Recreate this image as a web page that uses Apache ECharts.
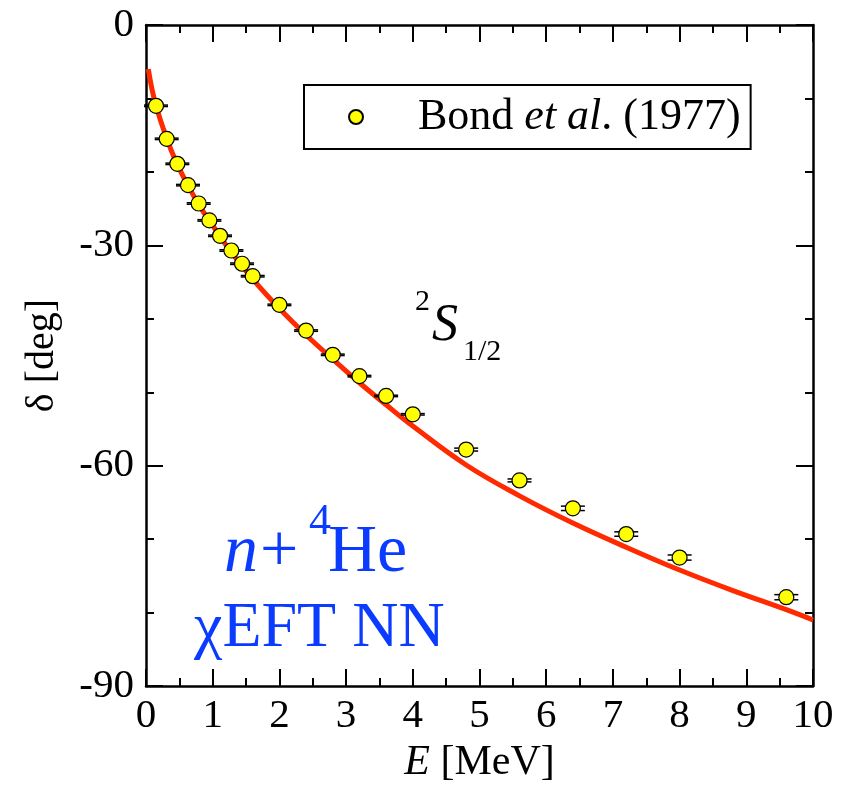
<!DOCTYPE html>
<html>
<head>
<meta charset="utf-8">
<script src="https://cdn.jsdelivr.net/npm/echarts@6/dist/echarts.min.js"></script>
<style>
  html, body { margin: 0; padding: 0; background: #fff; }
  #chart { width: 849px; height: 789px; }
</style>
</head>
<body>
<div id="chart"></div>
<script>
// n-4He 2S1/2 phase shift: Bond et al. (1977) data and chiral EFT NN calculation
const energy   = [0.15, 0.31, 0.47, 0.63, 0.79, 0.95, 1.11, 1.28, 1.44, 1.6, 2.0, 2.4, 2.8, 3.2, 3.6, 4.0, 4.8, 5.6, 6.4, 7.2, 8.0, 9.6];
const phase    = [-11.0, -15.5, -18.9, -21.8, -24.3, -26.6, -28.7, -30.7, -32.5, -34.2, -38.1, -41.6, -44.9, -47.8, -50.5, -53.0, -57.8, -62.0, -65.8, -69.3, -72.5, -77.9];
const phaseErr = [0.1, 0.1, 0.1, 0.1, 0.1, 0.1, 0.1, 0.1, 0.1, 0.1, 0.1, 0.1, 0.1, 0.1, 0.1, 0.1, 0.2, 0.2, 0.3, 0.3, 0.35, 0.35];

// theory curve
const curveE     = [0.035, 0.08, 0.15, 0.3, 0.45, 0.65, 0.85, 1.0, 1.25, 1.6, 2.0, 2.4, 2.8, 3.2, 3.6, 4.0, 4.8, 5.6, 6.4, 7.2, 8.0, 8.8, 9.6, 10.0];
const curveDelta = [-6.0, -8.3, -11.0, -15.2, -18.6, -22.2, -25.3, -27.3, -30.6, -34.6, -38.6, -42.2, -45.5, -48.7, -51.7, -54.6, -59.9, -64.1, -67.8, -71.1, -74.2, -77.0, -79.6, -81.0];

const xTicks = { min: 0, max: 10, interval: 1 };
const yTicks = { min: -90, max: 0, interval: 30 };
const legendName = 'Bond et al. (1977)';

const SERIF = 'Liberation Serif';
const BLUE = '#0b3bff';
const TICK_FONT = 41;

const chart = echarts.init(document.getElementById('chart'));

function frameAxis(extra) {
  return Object.assign({
    axisLine: { show: true, onZero: false, lineStyle: { color: '#000', width: 2.5 } },
    axisTick: { show: true, inside: true, length: 17, lineStyle: { color: '#000', width: 2 } },
    splitLine: { show: false },
    minorSplitLine: { show: false }
  }, extra);
}

const option = {
  backgroundColor: '#fff',
  animation: false,
  grid: { left: 146, right: 36, top: 25, bottom: 92 },
  legend: {
    data: [legendName],
    left: 304, top: 85,
    borderColor: '#000', borderWidth: 2,
    padding: [10, 10, 10, 44],
    itemWidth: 14, itemHeight: 14,
    icon: 'circle',
    formatter: () => '{r|Bond }{i|et al}{r|. (1977)}',
    textStyle: {
      fontFamily: SERIF, fontSize: 44, color: '#000',
      padding: [0, 0, 0, 50],
      rich: {
        r: { fontFamily: SERIF, fontSize: 44, color: '#000' },
        i: { fontFamily: SERIF, fontSize: 44, color: '#000', fontStyle: 'italic' }
      }
    }
  },
  xAxis: [
    frameAxis({
      type: 'value', position: 'bottom',
      min: xTicks.min, max: xTicks.max, interval: xTicks.interval,
      minorTick: { show: true, splitNumber: 2, length: 8, lineStyle: { color: '#000', width: 2 } },
      axisLabel: { fontFamily: SERIF, fontSize: TICK_FONT, color: '#000', margin: 10 },
      name: '{i|E} [MeV]',
      nameLocation: 'middle', nameGap: 52,
      nameTextStyle: {
        fontFamily: SERIF, fontSize: 42, color: '#000',
        rich: {
          i: { fontFamily: SERIF, fontSize: 42, color: '#000', fontStyle: 'italic' }
        }
      }
    }),
    frameAxis({
      type: 'value', position: 'top',
      min: xTicks.min, max: xTicks.max, interval: xTicks.interval,
      minorTick: { show: true, splitNumber: 2, length: 8, lineStyle: { color: '#000', width: 2 } },
      axisLabel: { show: false }
    })
  ],
  yAxis: [
    frameAxis({
      type: 'value', position: 'left',
      min: yTicks.min, max: yTicks.max, interval: yTicks.interval,
      minorTick: { show: true, splitNumber: 3, length: 8, lineStyle: { color: '#000', width: 2 } },
      axisLabel: { fontFamily: SERIF, fontSize: TICK_FONT, color: '#000', margin: 12 },
      name: 'δ [deg]',
      nameLocation: 'middle', nameGap: 84,
      nameTextStyle: { fontFamily: SERIF, fontSize: 40, color: '#000' }
    }),
    frameAxis({
      type: 'value', position: 'right',
      min: yTicks.min, max: yTicks.max, interval: yTicks.interval,
      minorTick: { show: true, splitNumber: 3, length: 8, lineStyle: { color: '#000', width: 2 } },
      axisLabel: { show: false }
    })
  ],
  series: [
    {
      name: 'χEFT NN',
      type: 'line',
      xAxisIndex: 0, yAxisIndex: 0,
      data: curveE.map((e, i) => [e, curveDelta[i]]),
      smooth: 0.4,
      showSymbol: false,
      symbol: 'none',
      lineStyle: { color: '#ff2a00', width: 5 },
      z: 2
    },
    {
      name: 'errors',
      type: 'custom',
      xAxisIndex: 0, yAxisIndex: 0,
      data: energy.map((e, i) => [e, phase[i] - phaseErr[i], phase[i] + phaseErr[i]]),
      renderItem: function (params, api) {
        const x = api.value(0);
        const pLo = api.coord([x, api.value(1)]);
        const pHi = api.coord([x, api.value(2)]);
        const hw = 12;
        const st = { stroke: '#000', lineWidth: 1.5 };
        return {
          type: 'group',
          children: [
            { type: 'line', shape: { x1: pLo[0], y1: pLo[1], x2: pHi[0], y2: pHi[1] }, style: st },
            { type: 'line', shape: { x1: pLo[0] - hw, y1: pLo[1], x2: pLo[0] + hw, y2: pLo[1] }, style: st },
            { type: 'line', shape: { x1: pHi[0] - hw, y1: pHi[1], x2: pHi[0] + hw, y2: pHi[1] }, style: st }
          ]
        };
      },
      z: 3
    },
    {
      name: legendName,
      type: 'scatter',
      xAxisIndex: 0, yAxisIndex: 0,
      data: energy.map((e, i) => [e, phase[i]]),
      symbol: 'circle',
      symbolSize: 15,
      itemStyle: { color: '#ffff00', borderColor: '#000', borderWidth: 1.2, opacity: 1 },
      z: 4
    }
  ],
  graphic: [
    // partial-wave label 2S1/2
    { type: 'text', left: 415, top: 287, style: { text: '2', font: '30px "Liberation Serif"', fill: '#000' } },
    { type: 'text', left: 432, top: 300, style: { text: 'S', font: 'italic 52px "Liberation Serif"', fill: '#000' } },
    { type: 'text', left: 463, top: 337, style: { text: '1/2', font: '30px "Liberation Serif"', fill: '#000' } },
    // system label n + 4He
    { type: 'text', left: 224, top: 519, style: { text: 'n', font: 'italic 68px "Liberation Serif"', fill: BLUE } },
    { type: 'text', left: 260, top: 519, style: { text: '+', font: '68px "Liberation Serif"', fill: BLUE } },
    { type: 'text', left: 309, top: 500, style: { text: '4', font: '44px "Liberation Serif"', fill: BLUE } },
    { type: 'text', left: 328, top: 519, style: { text: 'He', font: '68px "Liberation Serif"', fill: BLUE } },
    // interaction label
    { type: 'text', left: 194, top: 597, style: { text: 'χEFT NN', font: '64px "Liberation Serif"', fill: BLUE } }
  ]
};

chart.setOption(option);
</script>
</body>
</html>
